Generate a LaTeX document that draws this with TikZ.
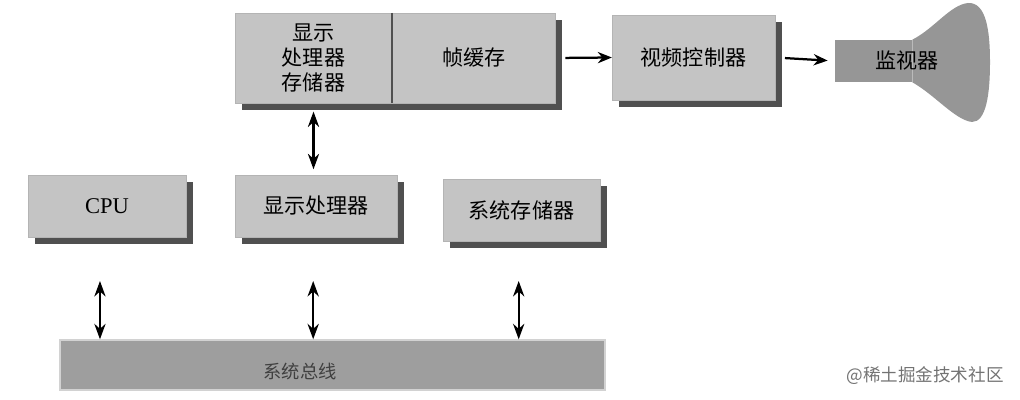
\documentclass[tikz,border=0pt]{standalone}
\usepackage{fontspec}
\setmainfont{Liberation Serif}
\newfontfamily\cjk{Noto Sans CJK SC}
\usepackage{xcolor}
\usetikzlibrary{arrows.meta, positioning, shadows}
\definecolor{boxgray}{RGB}{196, 196, 196}
\definecolor{shadegray}{RGB}{80, 80, 80}
\definecolor{busgray}{RGB}{158, 158, 158}
\definecolor{crtgray}{RGB}{150, 150, 150}

\begin{document}
\begin{tikzpicture}[
  x=0.025cm, y=-0.025cm,
  box/.style={fill=boxgray, draw=boxgray!92!black, line width=0.2pt,
    minimum height=62*0.025cm, align=center, inner sep=0pt,
    font=\fontsize{15}{18}\selectfont\cjk,
    drop shadow={shadow xshift=5pt, shadow yshift=-5pt,
      fill=shadegray, opacity=1}},
  topbox/.style={box, minimum height=90*0.025cm},
  arr/.style={-{Stealth[length=10pt, width=8pt]}, line width=1.6pt},
  dbl/.style={{Stealth[length=11pt, width=8pt]}-{Stealth[length=11pt, width=8pt]}, line width=1.5pt}
]
\useasboundingbox (0,0) rectangle (1020,400);

% top row
\node[topbox, minimum width=157*0.025cm] (dpm) at (313.5,58) {显示\\处理器\\存储器};
\node[topbox, minimum width=163*0.025cm, right=0pt of dpm] (fb) {帧缓存};
\draw[shadegray, line width=1.3pt] (dpm.north east) -- (dpm.south east);
\node[box, minimum width=163*0.025cm, minimum height=85*0.025cm] (vc) at (693.5,57.5) {视频控制器};

% monitor
\node[fill=crtgray, minimum width=77*0.025cm, minimum height=42*0.025cm,
  inner sep=0pt] (mon) at (873.5,61) {};
\fill[crtgray] (mon.north east) .. controls (935,28) and (950,5) .. (968,3)
  .. controls (986,2) and (990,30) .. (990,62)
  .. controls (990,95) and (986,122) .. (972,122)
  .. controls (955,120) and (935,95) .. (mon.south east) -- cycle;
\node[font=\fontsize{15}{18}\selectfont\cjk] (monlabel) at (907,61) {监视器};

% middle row
\node[box, minimum width=158*0.025cm, font=\fontsize{16}{18}\selectfont] (cpu) at (107,206) {CPU};
\node[box, minimum width=162*0.025cm] (dp) at (316,206) {显示处理器};
\node[box, minimum width=157*0.025cm] (sm) at (521.5,210) {系统存储器};

% system bus
\node[fill=busgray, draw=gray!35, line width=1pt, minimum width=545*0.025cm,
  minimum height=50*0.025cm, inner sep=0pt] (bus) at (332.5,365) {};
\node[font=\fontsize{13}{15}\selectfont\cjk, text=black!75] (buslabel) at (300,371) {系统总线};

% watermark
\node[font=\fontsize{12.5}{15}\selectfont\cjk, text=black!55] (mark) at (925,376) {@稀土掘金技术社区};

% connectors
\draw[arr, shorten <=7pt] (fb.east) -- (vc.west);
\draw[arr, shorten <=7pt, shorten >=5pt] (vc.east) -- (mon.west);
\draw[dbl, shorten <=6pt, shorten >=4pt] (dpm.south) -- (dpm.south |- dp.north);
\draw[dbl] ([xshift=-5pt]cpu.south |- 0,281) -- ([xshift=-5pt]cpu.south |- bus.north);
\draw[dbl] ([xshift=-2pt]dp.south |- 0,281) -- ([xshift=-2pt]dp.south |- bus.north);
\draw[dbl] ([xshift=-2pt]sm.south |- 0,281) -- ([xshift=-2pt]sm.south |- bus.north);
\end{tikzpicture}
\end{document}
